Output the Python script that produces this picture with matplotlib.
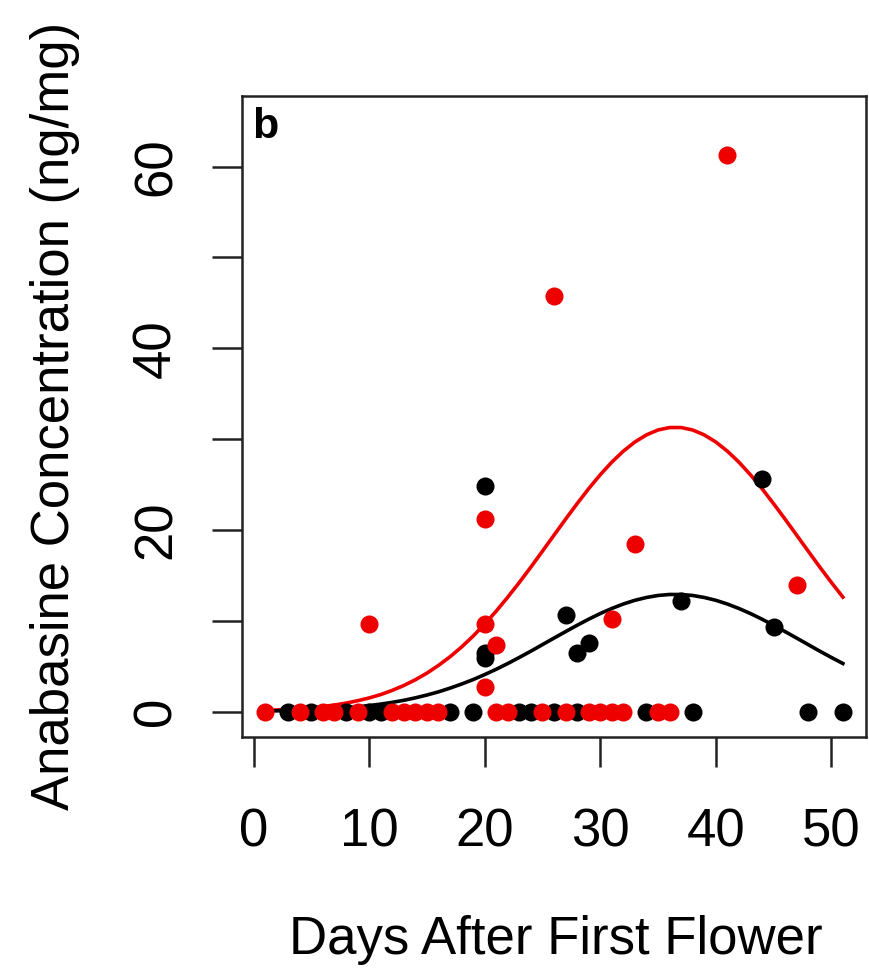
import matplotlib
matplotlib.use("Agg")
import matplotlib.pyplot as plt

plt.rcParams['font.family'] = ['Liberation Sans', 'DejaVu Sans']

# black group: observations
black_days = [3, 5, 8, 10, 11, 17, 19, 23, 24, 26, 28, 34, 38, 48, 51,
              20, 20, 20, 27, 28, 29, 37, 44, 45]
black_conc = [0, 0, 0, 0, 0, 0, 0, 0, 0, 0, 0, 0, 0, 0, 0,
              24.8, 6.4, 5.9, 10.6, 6.4, 7.5, 12.2, 25.6, 9.3]

# red group: observations
red_days = [1, 4, 6, 7, 9, 12, 13, 14, 15, 16, 21, 22, 25, 27, 29, 30, 31, 32, 35, 36,
            10, 20, 20, 20, 21, 26, 31, 33, 41, 47]
red_conc = [0, 0, 0, 0, 0, 0, 0, 0, 0, 0, 0, 0, 0, 0, 0, 0, 0, 0, 0, 0,
            9.6, 21.2, 9.6, 2.7, 7.3, 45.8, 10.2, 18.5, 61.3, 13.9]

# fitted curves
fit_days = list(range(1, 52))
red_fit = [0.13, 0.18, 0.24, 0.32, 0.43, 0.56, 0.72, 0.93, 1.19, 1.50,
           1.87, 2.33, 2.87, 3.50, 4.23, 5.08, 6.03, 7.11, 8.31, 9.63,
           11.06, 12.60, 14.22, 15.91, 17.66, 19.42, 21.18, 22.89, 24.54, 26.07,
           27.46, 28.67, 29.68, 30.46, 31.00, 31.27, 31.27, 31.00, 30.46, 29.68,
           28.67, 27.46, 26.07, 24.54, 22.89, 21.18, 19.42, 17.66, 15.91, 14.22,
           12.60]
black_fit = [0.06, 0.08, 0.11, 0.15, 0.19, 0.25, 0.32, 0.41, 0.52, 0.66,
             0.82, 1.01, 1.24, 1.51, 1.82, 2.17, 2.58, 3.03, 3.52, 4.07,
             4.66, 5.29, 5.96, 6.65, 7.37, 8.09, 8.80, 9.50, 10.17, 10.79,
             11.35, 11.84, 12.25, 12.56, 12.78, 12.89, 12.89, 12.78, 12.56, 12.25,
             11.84, 11.35, 10.79, 10.17, 9.50, 8.80, 8.09, 7.37, 6.65, 5.96,
             5.29]

fig = plt.figure(figsize=(8.7, 9.71), dpi=100)
ax = fig.add_axes((0.2782, 0.2410, 0.7172, 0.6604))

ax.plot(fit_days, red_fit, color='#ee0000', lw=2.6)
ax.plot(fit_days, black_fit, color='black', lw=2.6)
ax.plot(black_days, black_conc, 'o', color='black', ms=13, mew=0)
ax.plot(red_days, red_conc, 'o', color='#ee0000', ms=13, mew=0)

ax.set_xlim(-1, 53)
ax.set_ylim(-2.8, 67.8)
ax.set_xticks([0, 10, 20, 30, 40, 50])
ax.set_yticks([0, 10, 20, 30, 40, 50, 60])
ax.set_yticklabels(['0', '', '20', '', '40', '', '60'])

for s in ax.spines.values():
    s.set_linewidth(1.8)
    s.set_color('#222222')

ax.tick_params(axis='both', length=21.5, width=1.8, color='#222222', labelsize=38)
ax.tick_params(axis='x', pad=29)
ax.tick_params(axis='y', pad=22)
for lab in ax.get_yticklabels():
    lab.set_rotation(90)
    lab.set_va('center')

ax.set_xlabel('Days After First Flower', fontsize=38)
ax.set_ylabel('Anabasine Concentration (ng/mg)', fontsize=38)
ax.xaxis.set_label_coords(0.503, -0.2776)
ax.yaxis.set_label_coords(-0.2596, 0.5)

ax.text(0.016, 0.982, 'b', transform=ax.transAxes, ha='left', va='top',
        fontsize=31, fontweight='bold')

fig.savefig('out.png', dpi=100)
